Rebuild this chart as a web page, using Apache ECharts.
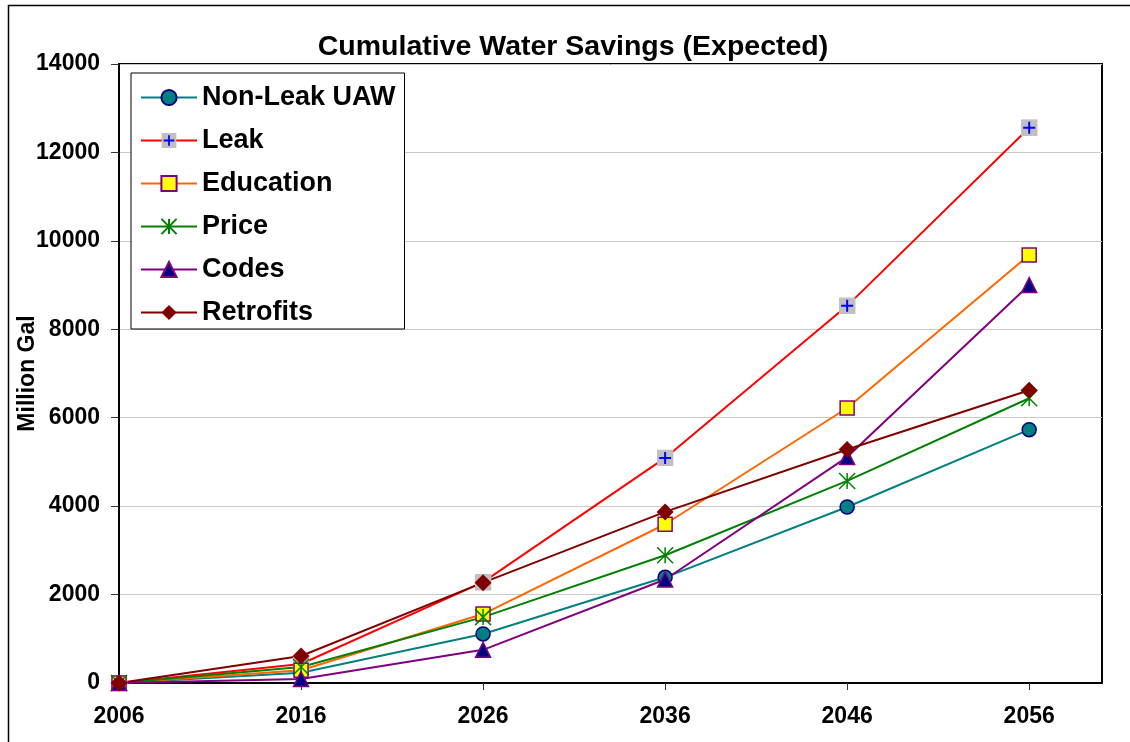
<!DOCTYPE html>
<html>
<head>
<meta charset="utf-8">
<script src="https://cdn.jsdelivr.net/npm/echarts@6/dist/echarts.min.js"></script>
<style>
html,body{margin:0;padding:0;background:#fff;}
#chart{width:1130px;height:742px;}
</style>
</head>
<body>
<div id="chart"></div>
<script>
const years = [2006, 2016, 2026, 2036, 2046, 2056];
const nonLeak = [0, 230, 1110, 2390, 3980, 5730];
const leak = [0, 430, 2280, 5090, 8530, 12560];
const education = [0, 290, 1560, 3590, 6220, 9680];
const price = [0, 360, 1490, 2890, 4570, 6440];
const codes = [0, 90, 750, 2340, 5110, 9000];
const retrofits = [0, 610, 2270, 3870, 5280, 6620];
const yTicks = [0, 2000, 4000, 6000, 8000, 10000, 12000, 14000];

const FONT = '"Liberation Sans", Arial, sans-serif';
const pairs = arr => years.map((y, i) => [y, arr[i]]);

const leakSvg = "<svg xmlns='http://www.w3.org/2000/svg' width='68' height='68' viewBox='0 0 17 17'>" +
  "<rect x='0' y='0' width='17' height='17' fill='#c0c0c0'/>" +
  "<path d='M8.5 2.5V14.5M2.5 8.5H14.5' stroke='#0000ff' stroke-width='2'/></svg>";
const leakSymbol = 'image://data:image/svg+xml;charset=utf-8,' + encodeURIComponent(leakSvg);
const starSymbol = 'path://M8,0L8,16M0,0L16,16M0,16L16,0';

function mk(name, data, lineColor, symbol, size, itemStyle) {
  return {
    name: name, type: 'line', data: pairs(data),
    symbol: symbol, symbolSize: size,
    lineStyle: { color: lineColor, width: 2 },
    itemStyle: Object.assign({ opacity: 1 }, itemStyle),
    emphasis: { disabled: true },
    animation: false
  };
}

const chart = echarts.init(document.getElementById('chart'));
chart.setOption({
  animation: false,
  backgroundColor: '#fff',
  title: {
    text: 'Cumulative Water Savings (Expected)',
    left: 568, top: 28, textAlign: 'center',
    textStyle: { fontFamily: FONT, fontWeight: 'bold', fontSize: 28.5, color: '#000' }
  },
  graphic: [{
    type: 'rect', z: -10, silent: true,
    shape: { x: 8.5, y: 5.5, width: 1200, height: 800 },
    style: { fill: null, stroke: '#000', lineWidth: 1.5 }
  }],
  grid: {
    left: 119, right: 28, top: 64, bottom: 59,
    outerBoundsMode: 'none', containLabel: false,
    show: true, borderColor: '#000', borderWidth: 2, backgroundColor: 'transparent'
  },
  legend: {
    orient: 'vertical', left: 131, top: 73,
    backgroundColor: '#fff', borderColor: '#000', borderWidth: 1,
    padding: [11, 9, 3, 9],
    itemGap: 16, itemWidth: 56, itemHeight: 19,
    textStyle: { fontFamily: FONT, fontWeight: 'bold', fontSize: 27, color: '#000', lineHeight: 26 },
    data: ['Non-Leak UAW', 'Leak', 'Education', 'Price', 'Codes', 'Retrofits']
  },
  xAxis: {
    type: 'value', min: 2006, max: 2060,
    axisLine: { onZero: false, lineStyle: { color: '#000', width: 2 } },
    axisTick: { show: true, length: 7, customValues: years, lineStyle: { color: '#333', width: 1 } },
    splitLine: { show: false },
    axisLabel: {
      margin: 22, customValues: years,
      fontFamily: FONT, fontWeight: 'bold', fontSize: 23, color: '#000',
      formatter: v => String(v)
    }
  },
  yAxis: {
    type: 'value', min: yTicks[0], max: yTicks[yTicks.length - 1], interval: 2000,
    name: 'Million Gal', nameLocation: 'middle', nameGap: 80, nameRotate: 90,
    nameMoveOverlap: false,
    nameTextStyle: { fontFamily: FONT, fontWeight: 'bold', fontSize: 23, color: '#000' },
    axisLine: { show: true, lineStyle: { color: '#000', width: 2 } },
    axisTick: { show: true, length: 8, lineStyle: { color: '#333', width: 1 } },
    splitLine: { show: true, lineStyle: { color: '#c8c8c8', width: 1 } },
    axisLabel: {
      margin: 19, fontFamily: FONT, fontWeight: 'bold', fontSize: 23, color: '#000',
      formatter: v => String(v)
    }
  },
  series: [
    mk('Non-Leak UAW', nonLeak, '#008080', 'circle', 14, { color: '#008080', borderColor: '#000080', borderWidth: 1.5 }),
    mk('Leak', leak, '#ff0000', leakSymbol, 17, { color: '#ff0000' }),
    mk('Education', education, '#ff6600', 'rect', 14, { color: '#ffff00', borderColor: '#800080', borderWidth: 1.5 }),
    mk('Price', price, '#008000', starSymbol, 16, { color: '#008000', borderColor: '#008000', borderWidth: 1.5 }),
    mk('Codes', codes, '#800080', 'triangle', 15, { color: '#000080', borderColor: '#800080', borderWidth: 1.5 }),
    mk('Retrofits', retrofits, '#800000', 'diamond', 17, { color: '#800000' })
  ]
});
</script>
</body>
</html>
